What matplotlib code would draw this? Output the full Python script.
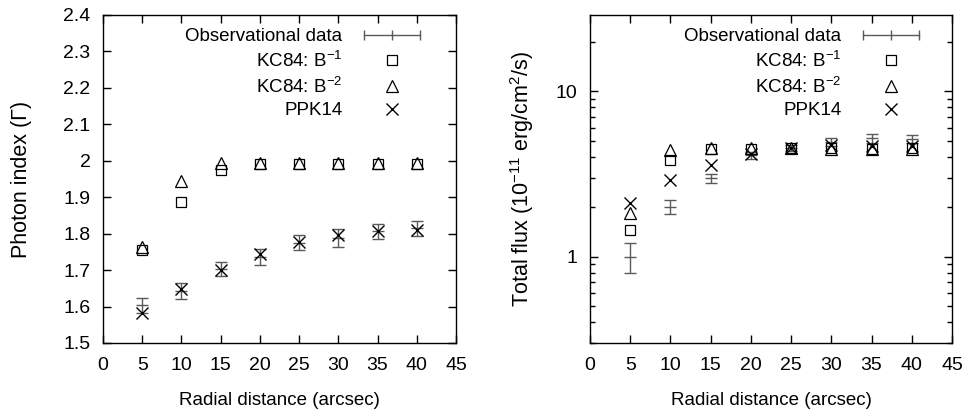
import matplotlib
matplotlib.use("Agg")
import matplotlib.pyplot as plt
import matplotlib.ticker as mticker
from matplotlib.lines import Line2D
from matplotlib.legend_handler import HandlerLine2D

plt.rcParams['font.family'] = ['Liberation Sans', 'DejaVu Sans']
plt.rcParams['mathtext.fontset'] = 'custom'
plt.rcParams['mathtext.rm'] = 'Liberation Sans'
plt.rcParams['mathtext.it'] = 'Liberation Sans:italic'
plt.rcParams['font.size'] = 13.5

# Radial distance (arcsec)
radius = [5, 10, 15, 20, 25, 30, 35, 40]

# Photon index panel
gamma_obs = [1.603, 1.643, 1.703, 1.735, 1.775, 1.788, 1.806, 1.815]
gamma_err = [0.020, 0.021, 0.020, 0.022, 0.020, 0.024, 0.021, 0.021]
gamma_kc1 = [1.755, 1.887, 1.975, 1.992, 1.992, 1.992, 1.992, 1.992]
gamma_kc2 = [1.762, 1.945, 1.995, 1.993, 1.993, 1.993, 1.993, 1.993]
gamma_ppk = [1.582, 1.647, 1.700, 1.745, 1.776, 1.797, 1.807, 1.811]

# Total flux panel (1e-11 erg/cm^2/s)
flux_obs = [1.00, 2.00, 2.98, 4.10, 4.55, 4.95, 5.20, 5.15]
flux_err = [0.20, 0.20, 0.20, 0.20, 0.20, 0.25, 0.30, 0.30]
flux_kc1 = [1.45, 3.85, 4.45, 4.50, 4.55, 4.55, 4.50, 4.55]
flux_kc2 = [1.83, 4.40, 4.55, 4.55, 4.55, 4.50, 4.45, 4.45]
flux_ppk = [2.12, 2.92, 3.60, 4.20, 4.55, 4.75, 4.65, 4.70]

labels = ['Observational data', 'KC84: B$^{-1}$', 'KC84: B$^{-2}$', 'PPK14']

ERR_COL = '#5a5a5a'


def draw_panel(ax, obs, err, kc1, kc2, ppk, legend_anchor):
    ax.errorbar(radius, obs, yerr=err, fmt='none', ecolor=ERR_COL,
                elinewidth=1.0, capsize=4.3, capthick=1.0)
    ax.plot(radius, obs, linestyle='none', marker='_', ms=8.6, mew=1.0,
            color=ERR_COL)
    ax.plot(radius, kc1, linestyle='none', marker='s', ms=7.5, mfc='none',
            mec='black', mew=0.9)
    ax.plot(radius, kc2, linestyle='none', marker='^', ms=8, mfc='none',
            mec='black', mew=0.9)
    ax.plot(radius, ppk, linestyle='none', marker='x', ms=8, mew=1.0,
            color='black')

    # legend samples
    h_obs = Line2D([], [], color=ERR_COL, lw=1.0, marker='|', ms=7, mew=1.0)
    h_kc1 = Line2D([], [], linestyle='none', marker='s', ms=7.5, mfc='none',
                   mec='black', mew=0.9)
    h_kc2 = Line2D([], [], linestyle='none', marker='^', ms=8, mfc='none',
                   mec='black', mew=0.9)
    h_ppk = Line2D([], [], linestyle='none', marker='x', ms=8, mew=1.0,
                   color='black')
    ax.legend([h_obs, h_kc1, h_kc2, h_ppk], labels, loc='upper right',
              bbox_to_anchor=legend_anchor, borderaxespad=0, frameon=False,
              markerfirst=False, handlelength=3.6, handletextpad=0.85,
              labelspacing=0.3, borderpad=0, fontsize=13.5,
              handler_map={h_obs: HandlerLine2D(numpoints=3)})

    ax.set_xlim(0, 45)
    ax.set_xticks(range(0, 46, 5))
    ax.set_xlabel('Radial distance (arcsec)', fontsize=13.5)
    ax.xaxis.set_label_coords(0.5, -0.15)
    ax.tick_params(which='both', direction='in', top=True, right=True,
                   labelsize=14)
    ax.tick_params(axis='x', pad=10)
    ax.tick_params(axis='y', pad=9)
    ax.tick_params(which='major', length=6, width=1.0)
    ax.tick_params(which='minor', length=3.5, width=1.0)
    for s in ax.spines.values():
        s.set_linewidth(1.0)


fig = plt.figure(figsize=(9.68, 4.19), dpi=100)
ax1 = fig.add_axes([0.1064, 0.1814, 0.3647, 0.783])
ax2 = fig.add_axes([0.6095, 0.1814, 0.374, 0.783])

draw_panel(ax1, gamma_obs, gamma_err, gamma_kc1, gamma_kc2, gamma_ppk,
           (0.915, 0.96))
ax1.set_ylim(1.5, 2.4)
ax1.set_yticks([1.5, 1.6, 1.7, 1.8, 1.9, 2.0, 2.1, 2.2, 2.3, 2.4])
ax1.yaxis.set_major_formatter(mticker.FuncFormatter(lambda v, p: f'{v:g}'))
ax1.set_ylabel('Photon index (Γ)', fontsize=15.5)
ax1.yaxis.set_label_coords(-0.2, 0.5)

ax2.set_yscale('log')
draw_panel(ax2, flux_obs, flux_err, flux_kc1, flux_kc2, flux_ppk,
           (0.925, 0.96))
ax2.set_ylim(0.3, 29)
ax2.yaxis.set_major_locator(mticker.LogLocator(base=10))
ax2.yaxis.set_minor_locator(mticker.LogLocator(base=10, subs=range(2, 10)))
ax2.yaxis.set_major_formatter(mticker.FuncFormatter(lambda v, p: f'{v:g}'))
ax2.yaxis.set_minor_formatter(mticker.NullFormatter())
ax2.set_ylabel('Total flux (10$^{-11}$ erg/cm$^2$/s)', fontsize=15.5)
ax2.yaxis.set_label_coords(-0.15, 0.5)

fig.savefig('out.png', dpi=100)
